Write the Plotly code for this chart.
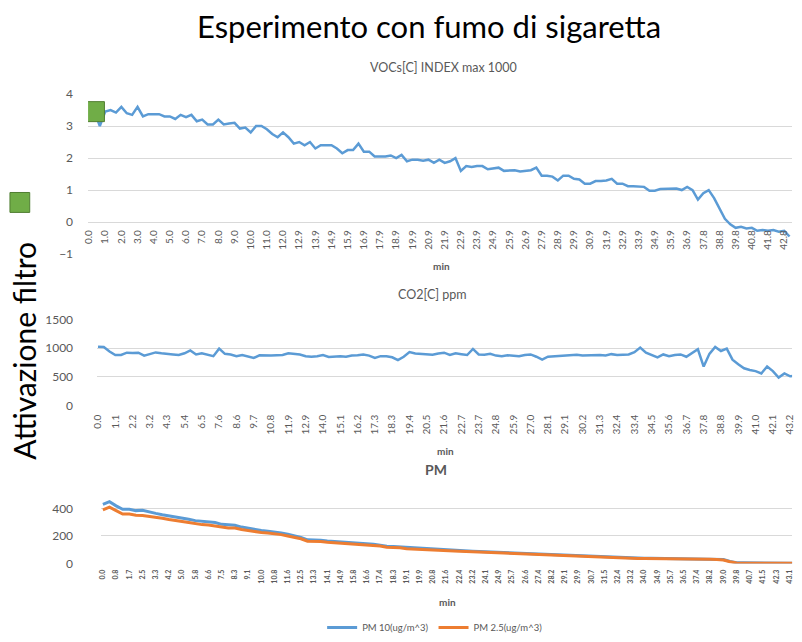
import plotly.graph_objects as go

title_text = "Esperimento con fumo di sigaretta"
side_text = "Attivazione filtro"
voc_title = "VOCs[C] INDEX max 1000"
co2_title = "CO2[C] ppm"
pm_title = "PM"
x_title = "min"

voc_ticks = ["0.0","1.0","2.0","3.0","4.0","5.0","6.0","7.0","8.0","9.0","10.0","11.0","12.0",
             "12.9","13.9","14.9","15.9","16.9","17.9","18.9","19.9","20.9","21.9","22.9","23.9",
             "24.9","25.9","26.9","27.9","28.9","29.9","30.9","31.9","32.9","33.9","34.9","35.9",
             "36.9","37.8","38.8","39.8","40.8","41.8","42.8"]
co2_ticks = ["0.0","1.1","2.2","3.2","4.3","5.4","6.5","7.6","8.6","9.7","10.8","11.9","12.9",
             "14.0","15.1","16.2","17.3","18.3","19.4","20.5","21.6","22.7","23.7","24.8","25.9",
             "27.0","28.1","29.1","30.2","31.3","32.4","33.4","34.5","35.6","36.7","37.8","38.8",
             "39.9","41.0","42.1","43.2"]
pm_ticks = ["0.0","0.8","1.7","2.5","3.3","4.2","5.0","5.8","6.6","7.5","8.3","9.1","10.0",
            "10.8","11.6","12.5","13.3","14.1","14.9","15.8","16.6","17.4","18.3","19.1","19.9",
            "20.8","21.6","22.4","23.2","24.1","24.9","25.7","26.6","27.4","28.2","29.1","29.9",
            "30.7","31.5","32.4","33.2","34.0","34.9","35.7","36.5","37.4","38.2","39.0","39.8",
            "40.7","41.5","42.3","43.1"]

# samples per tick-label interval
voc_per_tick = 3
co2_per_tick = 3
pm_per_tick = 2

voc_values = [3.5,3.45,3.0, 3.45,3.5,3.42, 3.6,3.4,3.35, 3.6,3.3,3.37, 3.37,3.37,3.3,
              3.3,3.22,3.35, 3.28,3.35,3.15, 3.2,3.05,3.05, 3.2,3.05,3.08, 3.1,2.92,2.95,
              2.8,3.0,3.0, 2.9,2.75,2.65, 2.8,2.65,2.45, 2.5,2.4,2.5, 2.3,2.4,2.4,
              2.4,2.3,2.15, 2.25,2.25,2.45, 2.2,2.2,2.05, 2.05,2.05,2.08, 2.0,2.1,1.9,
              1.95,1.95,1.92, 1.95,1.85,1.95, 1.85,1.9,2.0, 1.6,1.75,1.72, 1.75,1.75,1.65,
              1.68,1.7,1.6, 1.6,1.62,1.58, 1.6,1.62,1.7, 1.45,1.45,1.42, 1.3,1.45,1.45,
              1.35,1.33,1.2, 1.2,1.28,1.28, 1.3,1.35,1.2, 1.2,1.12,1.12, 1.12,1.1,0.98,
              0.98,1.03,1.03, 1.03,1.05,1.0, 1.1,1.0,0.7, 0.9,1.0,0.75, 0.4,0.1,-0.07,
              -0.18,-0.15,-0.2, -0.18,-0.27,-0.25, -0.27,-0.25,-0.3, -0.27,-0.45]

co2_values = [1025,1020,940,880,880,920,915,920,870,900,925,910,905,890,880,910,960,890,910,890,
              860,990,900,890,860,880,860,830,875,870,870,875,880,910,895,890,860,850,860,880,
              845,850,860,850,870,875,890,870,830,860,860,840,790,850,930,905,900,895,885,905,
              920,880,910,895,880,985,890,885,900,870,860,875,870,860,880,890,850,800,850,855,
              860,870,870,885,870,875,880,880,870,895,880,880,890,930,1010,920,880,840,890,860,
              880,890,850,920,980,680,900,1020,950,990,800,720,650,620,600,560,680,600,490,560,
              510,520]

pm10_values = [430,450,420,395,395,385,388,375,365,355,
               348,340,332,322,312,308,305,298,285,280,
               278,265,255,245,240,235,230,222,212,200,
               190,172,172,168,163,160,157,152,148,147,
               145,140,133,125,123,120,113,110,108,105,
               103,100,98,96,93,91,88,86,84,82,
               80,78,75,72,70,68,66,64,62,60,
               58,56,54,52,50,48,46,44,42,41,
               40,39,38,38,37,36,36,35,35,34,
               34,33,33,32,28,15,5,4,3,3,
               3,3,2,2,2,2]
pm25_values = [390,410,385,360,360,352,350,345,335,330,
               320,315,305,298,290,283,280,275,265,258,
               258,248,240,230,225,222,218,210,200,190,
               180,162,163,160,155,152,150,145,141,140,
               138,133,127,118,117,114,107,104,102,100,
               97,95,93,91,88,86,84,82,80,77,
               75,73,71,68,66,64,62,60,58,56,
               54,52,50,48,47,45,43,41,39,38,
               37,36,35,35,34,33,33,32,32,31,
               31,30,30,29,25,12,3,2,2,2,
               2,2,1,1,1,1]

filter_sample = 1  # sample where filter activation is marked on VOC series

BLUE = "#5B9BD5"
ORANGE = "#ED7D31"
GREEN = "#70AD47"
GRAY = "#595959"
GRID = "#D9D9D9"
FONT = "Lato"

W, H = 802, 642
# page-to-screen compensation observed in the viewer
DX, DY, SY = 7.0, 8.0, 642.0 / 657.0
def px(x):
    return (x - DX) / W
def py(y):
    return 1 - (y / SY - DY) / H

voc_x = [i / voc_per_tick for i in range(len(voc_values))]
co2_x = [i / co2_per_tick for i in range(len(co2_values))]
pm_x = [i / pm_per_tick for i in range(len(pm10_values))]

fig = go.Figure()
fig.add_trace(go.Scatter(x=voc_x, y=voc_values, mode="lines", line=dict(color=BLUE, width=2.5),
                         xaxis="x", yaxis="y", showlegend=False, hoverinfo="skip"))
fig.add_trace(go.Scatter(x=[voc_x[filter_sample]], y=[voc_values[filter_sample]], mode="markers",
                         marker=dict(symbol="square", size=20, color=GREEN, line=dict(color="#507E32", width=1)),
                         xaxis="x", yaxis="y", showlegend=False, hoverinfo="skip"))
fig.add_trace(go.Scatter(x=co2_x, y=co2_values, mode="lines", line=dict(color=BLUE, width=2.5),
                         xaxis="x2", yaxis="y2", showlegend=False, hoverinfo="skip"))
fig.add_trace(go.Scatter(x=pm_x, y=pm10_values, mode="lines", line=dict(color=BLUE, width=3),
                         xaxis="x3", yaxis="y3", name="PM 10(ug/m^3)", hoverinfo="skip"))
fig.add_trace(go.Scatter(x=pm_x, y=pm25_values, mode="lines", line=dict(color=ORANGE, width=3),
                         xaxis="x3", yaxis="y3", name="PM 2.5(ug/m^3)", hoverinfo="skip"))

xcommon = dict(showgrid=False, zeroline=False, showline=False, ticks="", tickangle=-90,
               tickfont=dict(family=FONT, size=10, color=GRAY))
ycommon = dict(showgrid=True, gridcolor=GRID, gridwidth=1, zeroline=False, showline=False, ticks="",
               tickfont=dict(family=FONT, size=12, color=GRAY), ticklabelstandoff=14)

fig.update_layout(
    width=W, height=H, margin=dict(l=0, r=0, t=0, b=0),
    paper_bgcolor="white", plot_bgcolor="white",
    xaxis=dict(xcommon, domain=[px(90), px(802)], range=[-0.06, 43.49], anchor="free", position=py(222.7),
               tickmode="array", tickvals=list(range(len(voc_ticks))), ticktext=voc_ticks,
               ticklabelstandoff=5),
    yaxis=dict(ycommon, domain=[py(255), py(94)], range=[-1.005, 4.005], dtick=1),
    xaxis2=dict(xcommon, domain=[px(99), px(802)], range=[-0.06, 40.11], anchor="y2",
                tickmode="array", tickvals=list(range(len(co2_ticks))), ticktext=co2_ticks,
                ticklabelstandoff=6),
    yaxis2=dict(ycommon, domain=[py(407), py(320)], range=[0, 1505], dtick=500),
    xaxis3=dict(xcommon, domain=[px(103), px(802)], range=[-0.15, 52.2], anchor="y3",
                tickmode="array", tickvals=list(range(len(pm_ticks))), ticktext=pm_ticks,
                ticklabelstandoff=4,
                tickfont=dict(family=FONT, size=7, color=GRAY, weight="bold")),
    yaxis3=dict(ycommon, domain=[py(565.3), py(496.5)], range=[0, 500], dtick=200),
    legend=dict(orientation="h", x=px(441), xanchor="center", y=py(630), yanchor="middle",
                font=dict(family=FONT, size=9.5, color=GRAY), bgcolor="rgba(0,0,0,0)",
                itemwidth=30),
    showlegend=True,
    hovermode=False,
)

anns = [
    dict(text=title_text, x=px(435), y=py(26), font=dict(family=FONT, size=31, color="black")),
    dict(text=side_text, x=px(25), y=py(352), textangle=-90, font=dict(family=FONT, size=30, color="black")),
    dict(text=voc_title, x=px(449), y=py(68), font=dict(family=FONT, size=12.5, color=GRAY)),
    dict(text=co2_title, x=px(438), y=py(295), font=dict(family=FONT, size=12.5, color=GRAY)),
    dict(text=pm_title, x=px(442), y=py(471), font=dict(family=FONT, size=14, color=GRAY, weight="bold")),
    dict(text=x_title, x=px(447), y=py(267), font=dict(family=FONT, size=10, color=GRAY, weight="bold")),
    dict(text=x_title, x=px(451), y=py(452), font=dict(family=FONT, size=10, color=GRAY, weight="bold")),
    dict(text=x_title, x=px(454), y=py(604), font=dict(family=FONT, size=10, color=GRAY, weight="bold")),
]
for a in anns:
    fig.add_annotation(xref="paper", yref="paper", xanchor="center", yanchor="middle",
                       showarrow=False, **a)

fig.add_shape(type="rect", xref="paper", yref="paper", x0=px(11), x1=px(31), y0=py(213), y1=py(193),
              fillcolor=GREEN, line=dict(color="#507E32", width=1))

fig.write_html("out.html", config={"displayModeBar": False, "staticPlot": True},
               post_script="document.body.style.margin='0';document.body.style.overflow='hidden';")
